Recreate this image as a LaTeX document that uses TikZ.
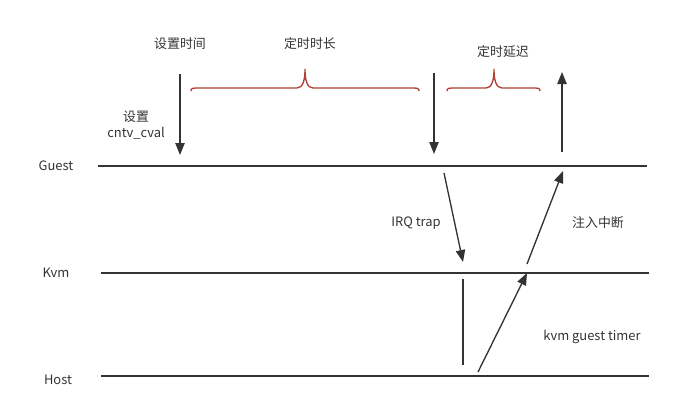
\documentclass[tikz,border=0pt]{standalone}
\usepackage{fontspec}
\setmainfont{Noto Sans CJK SC}
\usetikzlibrary{arrows.meta}
\definecolor{ink}{HTML}{333333}
\definecolor{bracered}{HTML}{AE4132}
\tikzset{
  lane/.style={draw=ink, line width=1pt},
  signal/.style={draw=ink, line width=1pt, -{Triangle[length=9pt,width=7pt]}},
  plain signal/.style={draw=ink, line width=1pt},
  timebrace/.style={draw=bracered, line width=1pt},
  tag/.style={font=\fontsize{9.7}{12}\selectfont, text=ink, inner sep=1pt, align=center}
}
% brace from x=#1 to x=#2, tip at x=#3
\newcommand\timebrace[3]{%
  \draw[timebrace] (#1,91) .. controls (#1,88) and ({#1+2},88) .. ({#1+8},88)
    -- ({#3-8},88) .. controls ({#3-2},88) and (#3,80) .. (#3,69)
    .. controls (#3,80) and ({#3+2},88) .. ({#3+8},88)
    -- ({#2-8},88) .. controls ({#2-2},88) and (#2,88) .. (#2,91);}

\begin{document}
\begin{tikzpicture}[x=0.75pt, y=-0.75pt]
    \useasboundingbox (0,0) rectangle (680,419);

    % lanes
    \node[tag] (guest) at (56,166) {Guest};
    \node[tag] (kvm)   at (56,273) {Kvm};
    \node[tag] (host)  at (58,380) {Host};
    \coordinate (guest l) at (98,166);  \coordinate (guest r) at (647,166);
    \coordinate (kvm l)   at (101,273); \coordinate (kvm r)   at (649,273);
    \coordinate (host l)  at (101,376); \coordinate (host r)  at (649,376);
    \draw[lane] (guest l) -- (guest r);
    \draw[lane] (kvm l) -- (kvm r);
    \draw[lane] (host l) -- (host r);

    % guest side
    \coordinate (set a) at (180,74);  \coordinate (set b) at (180,155);
    \coordinate (fire a) at (434,73); \coordinate (fire b) at (434,154);
    \coordinate (run a) at (562,152); \coordinate (run b) at (562,72);
    \draw[signal] (set a) -- (set b);
    \draw[signal] (fire a) -- (fire b);
    \draw[signal] (run a) -- (run b);
    \node[tag] (settime) at (180,44) {设置时间};
    \node[tag] (setcval) at (136,125) {设置\\cntv\_cval};

    \timebrace{191}{419}{305}
    \timebrace{447}{540}{494}
    \node[tag] (period) at (310,44) {定时时长};
    \node[tag] (delay)  at (503,52) {定时延迟};

    % trap and injection
    \coordinate (trap a) at (444,173); \coordinate (trap b) at (463,262);
    \coordinate (hold a) at (463,279); \coordinate (hold b) at (463,365);
    \coordinate (up a) at (478,372);   \coordinate (up b) at (527,273);
    \coordinate (inj a) at (527,264);  \coordinate (inj b) at (563,171);
    \draw[signal] (trap a) -- (trap b);
    \draw[plain signal] (hold a) -- (hold b);
    \draw[signal] (up a) -- (up b);
    \draw[signal] (inj a) -- (inj b);
    \node[tag] (trap)   at (416,223) {IRQ trap};
    \node[tag] (inject) at (598,223) {注入中断};
    \node[tag] (timer)  at (592,337) {kvm guest timer};
\end{tikzpicture}
\end{document}
